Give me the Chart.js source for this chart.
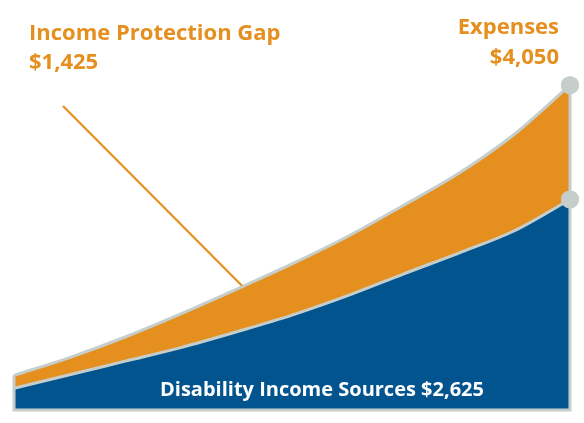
<!DOCTYPE html>
<html>
<head>
<meta charset="utf-8">
<script src="https://cdn.jsdelivr.net/npm/chart.js@4"></script>
<style>
  html, body { margin: 0; padding: 0; background: #ffffff; }
  #wrap { position: relative; width: 584px; height: 423px; }
</style>
</head>
<body>
<div id="wrap"><canvas id="c"></canvas></div>
<script>
// ---- data ----
const categories = [0, 1, 2, 3, 4, 5, 6, 7, 8, 9, 10];
const incomeValues = [272, 440, 609, 778, 974, 1183, 1425, 1695, 1957, 2235, 2625];
const expenseValues = [432, 654, 910, 1198, 1505, 1821, 2163, 2550, 2951, 3438, 4050];
const titleGap = "Income Protection Gap";
const labelGap = "$1,425";
const titleExpenses = "Expenses";
const labelExpenses = "$4,050";
const labelIncome = "Disability Income Sources $2,625";

const ORANGE = '#E58F1E';
const BLUE = '#02548F';
const GRAY = '#C6CECC';
const FONT = '"Open Sans", "Noto Sans", sans-serif';

const lastIdx = categories.length - 1;
const radii = categories.map((c, i) => i === lastIdx ? 9 : 0);

const decor = {
  id: 'decor',
  afterDatasetsDraw(chart) {
    const ctx = chart.ctx;
    const xs = chart.scales.x, ys = chart.scales.y;
    const x0 = xs.getPixelForValue(categories[0]);
    const x1 = xs.getPixelForValue(categories[lastIdx]);
    const yb = ys.getPixelForValue(0);
    ctx.save();
    ctx.strokeStyle = GRAY;
    ctx.lineWidth = 3;
    ctx.lineCap = 'butt';
    ctx.beginPath();
    ctx.moveTo(x0, ys.getPixelForValue(expenseValues[0]));
    ctx.lineTo(x0, yb);
    ctx.lineTo(x1, yb);
    ctx.lineTo(x1, ys.getPixelForValue(expenseValues[lastIdx]));
    ctx.stroke();
    // redraw end circles on top
    ctx.fillStyle = GRAY;
    [incomeValues[lastIdx], expenseValues[lastIdx]].forEach(v => {
      ctx.beginPath();
      ctx.arc(x1, ys.getPixelForValue(v), 9, 0, Math.PI * 2);
      ctx.fill();
    });
    // annotation leader line
    const meta = chart.getDatasetMeta(1);
    const pA = meta.data[4];
    const ex = 242, ey = ys.getPixelForValue(expenseValues[4] + (expenseValues[5] - expenseValues[4]) * ((242 - pA.x) / (meta.data[5].x - pA.x))) - 1;
    ctx.strokeStyle = ORANGE;
    ctx.lineWidth = 2.2;
    ctx.beginPath();
    ctx.moveTo(63, 106);
    ctx.lineTo(ex, ey);
    ctx.stroke();
    // texts
    ctx.fillStyle = ORANGE;
    ctx.font = 'bold 22px ' + FONT;
    ctx.textBaseline = 'alphabetic';
    ctx.textAlign = 'left';
    ctx.fillText(titleGap, 29, 40);
    ctx.fillText(labelGap, 29, 69);
    ctx.textAlign = 'right';
    ctx.fillText(titleExpenses, 559, 34);
    ctx.fillText(labelExpenses, 559, 64);
    ctx.fillStyle = '#ffffff';
    ctx.font = 'bold 20px ' + FONT;
    ctx.textAlign = 'left';
    ctx.fillText(labelIncome, 160, 396);
    ctx.restore();
  }
};

new Chart(document.getElementById('c'), {
  type: 'line',
  data: {
    labels: categories,
    datasets: [
      {
        label: 'Disability Income Sources',
        data: incomeValues,
        fill: 'origin',
        backgroundColor: BLUE,
        borderColor: GRAY,
        borderWidth: 3,
        cubicInterpolationMode: 'monotone',
        pointRadius: radii,
        pointHoverRadius: radii,
        pointBackgroundColor: GRAY,
        pointBorderWidth: 0
      },
      {
        label: 'Expenses',
        data: expenseValues,
        fill: '-1',
        backgroundColor: ORANGE,
        borderColor: GRAY,
        borderWidth: 3,
        cubicInterpolationMode: 'monotone',
        pointRadius: radii,
        pointHoverRadius: radii,
        pointBackgroundColor: GRAY,
        pointBorderWidth: 0
      }
    ]
  },
  options: {
    responsive: true,
    maintainAspectRatio: false,
    animation: false,
    clip: false,
    layout: { padding: { left: 14, right: 14, top: 5, bottom: 13 } },
    plugins: { legend: { display: false }, tooltip: { enabled: false } },
    scales: {
      x: { type: 'category', display: false, offset: false },
      y: { display: false, min: 0, max: 5000 }
    }
  },
  plugins: [decor]
});
</script>
</body>
</html>
